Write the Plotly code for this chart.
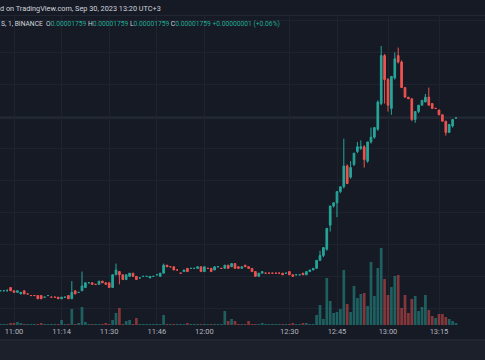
import plotly.graph_objects as go

# 1-minute bars (minutes with no trades are absent, as on TradingView)
times = (
    ["10:56", "10:57", "10:58", "10:59"]
    + ["11:00", "11:01", "11:02", "11:03", "11:04", "11:05", "11:06", "11:07", "11:08",
       "11:09", "11:10", "11:11", "11:12", "11:13", "11:14", "11:15", "11:16"]
    + ["11:18", "11:19", "11:20", "11:21", "11:22"]
    + ["11:24", "11:25", "11:26", "11:27", "11:28", "11:29", "11:30", "11:31", "11:32",
       "11:33", "11:34"]
    + ["11:36", "11:37", "11:38", "11:39", "11:40"]
    + ["11:42", "11:43", "11:44", "11:45", "11:46", "11:47", "11:48", "11:49", "11:50",
       "11:51", "11:52", "11:53", "11:54", "11:55", "11:56", "11:57", "11:58", "11:59",
       "12:00", "12:01", "12:02", "12:03"]
    + ["12:05", "12:06", "12:07", "12:08"]
    + ["12:10", "12:11", "12:12", "12:13"]
    + ["12:15", "12:16", "12:17", "12:18"]
    + ["12:20", "12:21", "12:22", "12:23", "12:24"]
    + ["12:26", "12:27", "12:28", "12:29", "12:30", "12:31", "12:32", "12:33", "12:34",
       "12:35", "12:36", "12:37"]
    + ["12:39", "12:40", "12:41", "12:42", "12:43", "12:44", "12:45", "12:46", "12:47",
       "12:48", "12:49", "12:50", "12:51", "12:52", "12:53", "12:54", "12:55", "12:56",
       "12:57", "12:58", "12:59", "13:00", "13:01", "13:02", "13:03", "13:04", "13:05",
       "13:06", "13:07", "13:08", "13:09", "13:10", "13:11", "13:12", "13:13", "13:14",
       "13:15", "13:16", "13:17", "13:18", "13:19", "13:20"]
)

# prices in units of 0.00000001
opens = [
    1651, 1651, 1651, 1653, 1651, 1650, 1649, 1651, 1649, 1648, 1648, 1648, 1648, 1647,
    1648, 1647, 1647, 1647, 1646, 1647, 1648, 1646, 1651, 1650, 1651, 1653, 1656, 1656,
    1655, 1655, 1657, 1656, 1656, 1653, 1661, 1663, 1661, 1658, 1660, 1662, 1660, 1659,
    1660, 1660, 1659, 1660, 1661, 1660, 1662, 1667, 1666, 1666, 1664, 1662, 1663, 1665,
    1665, 1665, 1665, 1666, 1663, 1665, 1665, 1664, 1666, 1665, 1665, 1667, 1666, 1668,
    1666, 1665, 1667, 1666, 1665, 1663, 1660, 1662, 1662, 1662, 1662, 1662, 1662, 1662,
    1662, 1663, 1661, 1661, 1661, 1662, 1661, 1663, 1664, 1665, 1670, 1673, 1677, 1692,
    1704, 1706, 1713, 1716, 1729, 1722, 1730, 1738, 1740, 1741, 1732, 1744, 1747, 1752,
    1768, 1798, 1783, 1765, 1784, 1798, 1794, 1778, 1772, 1771, 1758, 1763, 1767, 1769,
    1772, 1768, 1765, 1764, 1761, 1757, 1750, 1754, 1759,
]
highs = [
    1651, 1651, 1652, 1653, 1651, 1651, 1650, 1651, 1649, 1648, 1648, 1648, 1648, 1647,
    1648, 1647, 1647, 1647, 1647, 1647, 1648, 1657, 1651, 1650, 1663, 1656, 1656, 1656,
    1655, 1657, 1657, 1656, 1656, 1661, 1668, 1663, 1661, 1661, 1662, 1662, 1660, 1659,
    1660, 1660, 1660, 1660, 1661, 1662, 1668, 1667, 1666, 1666, 1664, 1662, 1664, 1665,
    1665, 1665, 1666, 1666, 1666, 1665, 1665, 1666, 1666, 1665, 1667, 1667, 1668, 1668,
    1666, 1666, 1667, 1666, 1665, 1663, 1662, 1663, 1662, 1662, 1662, 1662, 1662, 1662,
    1662, 1663, 1661, 1661, 1661, 1662, 1663, 1664, 1665, 1670, 1676, 1678, 1690, 1704,
    1706, 1713, 1716, 1746, 1730, 1732, 1737, 1744, 1745, 1742, 1744, 1753, 1753, 1770,
    1804, 1799, 1784, 1785, 1800, 1803, 1795, 1778, 1772, 1771, 1763, 1767, 1770, 1774,
    1778, 1768, 1765, 1764, 1761, 1757, 1755, 1758, 1759,
]
lows = [
    1651, 1651, 1651, 1651, 1650, 1650, 1649, 1649, 1649, 1648, 1648, 1646, 1646, 1647,
    1648, 1647, 1647, 1646, 1646, 1647, 1646, 1646, 1649, 1650, 1651, 1653, 1656, 1655,
    1655, 1655, 1656, 1655, 1653, 1653, 1661, 1655, 1658, 1658, 1660, 1660, 1658, 1659,
    1660, 1660, 1659, 1660, 1661, 1660, 1662, 1666, 1666, 1664, 1664, 1662, 1663, 1663,
    1665, 1665, 1665, 1663, 1663, 1665, 1663, 1664, 1666, 1665, 1665, 1665, 1666, 1665,
    1665, 1665, 1666, 1665, 1663, 1660, 1660, 1662, 1662, 1662, 1662, 1662, 1662, 1661,
    1662, 1661, 1660, 1661, 1661, 1661, 1661, 1663, 1664, 1665, 1670, 1672, 1676, 1688,
    1703, 1697, 1712, 1715, 1718, 1721, 1729, 1737, 1739, 1728, 1731, 1743, 1746, 1751,
    1767, 1768, 1763, 1761, 1783, 1793, 1778, 1772, 1771, 1757, 1756, 1762, 1767, 1769,
    1767, 1765, 1765, 1761, 1757, 1748, 1750, 1753, 1759,
]
closes = [
    1651, 1651, 1651, 1651, 1650, 1651, 1650, 1649, 1649, 1648, 1648, 1646, 1646, 1647,
    1648, 1647, 1647, 1646, 1647, 1647, 1646, 1650, 1649, 1650, 1654, 1656, 1656, 1655,
    1655, 1657, 1656, 1655, 1653, 1661, 1664, 1661, 1658, 1661, 1662, 1660, 1658, 1659,
    1660, 1660, 1660, 1660, 1661, 1662, 1667, 1666, 1666, 1664, 1664, 1662, 1664, 1663,
    1665, 1665, 1666, 1663, 1666, 1665, 1663, 1666, 1666, 1665, 1667, 1665, 1668, 1665,
    1665, 1666, 1666, 1665, 1663, 1660, 1662, 1663, 1662, 1662, 1662, 1662, 1662, 1661,
    1662, 1661, 1660, 1661, 1661, 1661, 1663, 1664, 1665, 1670, 1673, 1678, 1690, 1704,
    1706, 1713, 1716, 1729, 1718, 1728, 1737, 1741, 1741, 1733, 1744, 1747, 1753, 1769,
    1798, 1783, 1767, 1785, 1796, 1794, 1778, 1772, 1771, 1758, 1763, 1767, 1770, 1772,
    1767, 1765, 1765, 1761, 1757, 1750, 1755, 1758, 1759,
]
volumes = [
    1, 1, 1, 2, 2, 3, 2, 1, 1, 1, 1, 1, 2, 1,
    1, 1, 1, 1, 5, 1, 1, 16, 1, 2, 18, 3, 1, 1,
    1, 1, 1, 2, 1, 5, 12, 17, 1, 4, 5, 1, 7, 1,
    1, 1, 1, 1, 1, 1, 10, 1, 1, 1, 1, 1, 1, 2,
    1, 1, 1, 1, 1, 1, 1, 1, 1, 1, 14, 4, 6, 4,
    1, 1, 1, 4, 1, 1, 1, 2, 1, 1, 1, 1, 1, 1,
    1, 1, 2, 1, 1, 2, 2, 1, 1, 10, 20, 6, 47, 24,
    12, 13, 16, 55, 21, 13, 39, 27, 31, 32, 19, 63, 29, 57,
    77, 46, 30, 38, 49, 50, 17, 30, 12, 26, 29, 14, 18, 30,
    15, 9, 7, 11, 11, 8, 6, 4, 2,
]
tick_labels = ["11:00", "11:14", "11:30", "11:46", "12:00", "12:30", "12:45", "13:00",
               "13:15", "13:30"]

UP = "#26a69a"
DOWN = "#ef5350"
BG = "#161a25"

n = len(times)
xs = list(range(n))


def to_min(t):
    h, m = t.split(":")
    return int(h) * 60 + int(m)


def tick_pos(lbl):
    if lbl in times:
        return times.index(lbl)
    return n - 1 + (to_min(lbl) - to_min(times[-1]))


tickvals = [tick_pos(t) for t in tick_labels]

vol_colors = [
    "rgba(38,166,154,0.5)" if c >= o else "rgba(239,83,80,0.5)"
    for o, c in zip(opens, closes)
]

fig = go.Figure()
fig.add_trace(go.Bar(
    x=xs, y=volumes, yaxis="y2", marker=dict(color=vol_colors, line=dict(width=0)),
    hoverinfo="skip", showlegend=False,
))
fig.add_trace(go.Candlestick(
    x=xs, open=opens, high=highs, low=lows, close=closes,
    increasing=dict(line=dict(color=UP, width=1), fillcolor=UP),
    decreasing=dict(line=dict(color=DOWN, width=1), fillcolor=DOWN),
    whiskerwidth=0, showlegend=False,
))

last = closes[-1]
fig.add_shape(type="line", xref="paper", x0=0, x1=1, yref="y", y0=last, y1=last,
              line=dict(color="#2c373d", width=1), layer="below")

PLOT_TOP, PLOT_BOT = 16, 325
H = PLOT_BOT - PLOT_TOP


def ypaper(px):
    return (PLOT_BOT - px) / H


font = "Roboto, Arial, sans-serif"
fig.add_annotation(
    text="d on TradingView.com, Sep 30, 2023 13:20 UTC+3",
    xref="paper", yref="paper", x=0, y=ypaper(8), xanchor="left", yanchor="middle",
    showarrow=False, xshift=-2, font=dict(family=font, size=7.3, color="#d1d4dc"),
)
g = "<span style='color:#22ab94'>"
legend = ("S, 1, BINANCE  O" + g + "0.00001759</span> H" + g + "0.00001759</span> L"
          + g + "0.00001759</span> C" + g + "0.00001759</span> " + g
          + "+0.00000001 (+0.06%)</span>")
fig.add_annotation(
    text=legend, xref="paper", yref="paper", x=0, y=ypaper(24), xanchor="left",
    yanchor="middle", showarrow=False, xshift=-1,
    font=dict(family=font, size=6.7, color="#d1d4dc"),
)

# header separator and bottom toolbar strip
fig.add_shape(type="rect", xref="paper", yref="paper", x0=0, x1=1,
              y0=ypaper(340), y1=ypaper(361), fillcolor="#1c202b", line=dict(width=0),
              layer="below")
fig.add_shape(type="line", xref="paper", yref="paper", x0=0, x1=1,
              y0=ypaper(340), y1=ypaper(340), line=dict(color="#2a2e39", width=1))
fig.add_shape(type="line", xref="paper", yref="paper", x0=0, x1=1,
              y0=ypaper(15.5), y1=ypaper(15.5), line=dict(color="#232733", width=1))

fig.update_layout(
    width=485, height=360,
    margin=dict(l=0, r=0, t=PLOT_TOP, b=360 - PLOT_BOT),
    paper_bgcolor=BG, plot_bgcolor=BG,
    bargap=0.2, showlegend=False,
    xaxis=dict(
        range=[-0.118, 142.53], rangeslider=dict(visible=False),
        tickmode="array", tickvals=tickvals, ticktext=tick_labels,
        showgrid=True, gridcolor="#1f2330", gridwidth=1, zeroline=False,
        showline=False, ticks="", tickfont=dict(family=font, size=7.5, color="#b2b5be"),
        fixedrange=True,
    ),
    yaxis=dict(
        range=[1629.6, 1822.75], tick0=0, dtick=20, showticklabels=False,
        showgrid=True, gridcolor="#1f2330", zeroline=False, fixedrange=True,
    ),
    yaxis2=dict(range=[0, H], overlaying="y", visible=False, fixedrange=True),
)

fig.write_html(
    "out.html",
    config={"displayModeBar": False, "staticPlot": True},
    post_script="document.body.style.margin='0';document.body.style.padding='0';"
                "document.body.style.background='" + BG + "';",
)
